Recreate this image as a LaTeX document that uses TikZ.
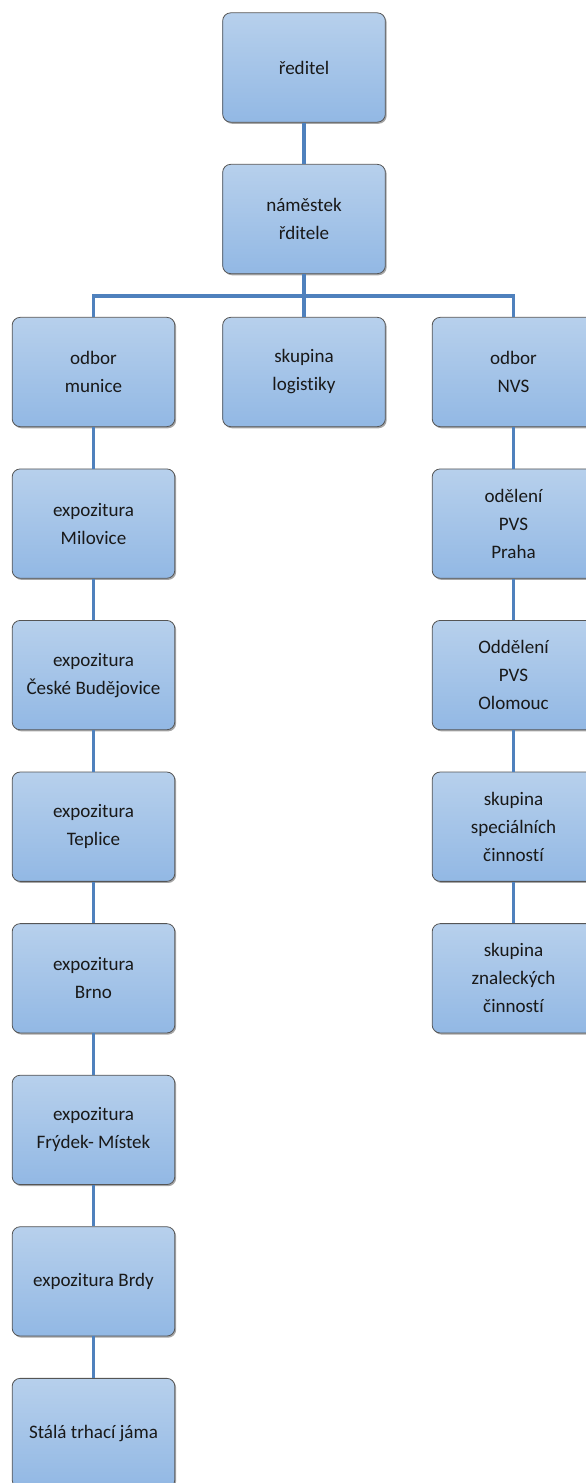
\documentclass[tikz,border=0pt]{standalone}
\usepackage{fontspec}
\setmainfont{Carlito}[RawFeature={-liga;-clig;-calt;-dlig}]
\usetikzlibrary{shadows}
\definecolor{boxtop}{RGB}{183,208,236}
\definecolor{boxbot}{RGB}{146,184,228}
\definecolor{boxline}{RGB}{85,85,85}
\definecolor{conn}{RGB}{79,129,189}
\definecolor{txt}{RGB}{25,25,25}
\tikzset{
  orgbox/.style={draw=boxline, line width=0.6pt, rounded corners=6pt,
    top color=boxtop, bottom color=boxbot,
    minimum width=122pt, minimum height=82pt, inner sep=2pt,
    align=center, text=txt,
    font=\fontsize{14.3pt}{21pt}\selectfont,
    drop shadow={shadow xshift=1pt, shadow yshift=-1.2pt, opacity=0.35, fill=black}},
  link/.style={draw=conn, line width=2.3pt}
}
\begin{document}
\begin{tikzpicture}[x=0.75pt,y=-0.75pt]
\useasboundingbox (0,0) rectangle (585,1483);
% top
\node[orgbox] (r) at (304,67.5) {ředitel};
\node[orgbox] (n) at (304,219) {náměstek\\řditele};
% row 3
\node[orgbox] (a1) at (93.5,372) {odbor\\munice};
\node[orgbox] (b1) at (304,372) {skupina\\logistiky};
\node[orgbox] (c1) at (513.5,372) {odbor\\NVS};
% left column
\node[orgbox] (a2) at (93.5,523.6) {expozitura\\Milovice};
\node[orgbox] (a3) at (93.5,675.1) {expozitura\\České Budějovice};
\node[orgbox] (a4) at (93.5,826.7) {expozitura\\Teplice};
\node[orgbox] (a5) at (93.5,978.3) {expozitura\\Brno};
\node[orgbox] (a6) at (93.5,1129.9) {expozitura\\Frýdek- Místek};
\node[orgbox] (a7) at (93.5,1281.4) {expozitura Brdy};
\node[orgbox] (a8) at (93.5,1433.0) {Stálá trhací jáma};
% right column
\node[orgbox] (c2) at (513.5,523.6) {odělení\\PVS\\Praha};
\node[orgbox] (c3) at (513.5,675.1) {Oddělení\\PVS\\Olomouc};
\node[orgbox] (c4) at (513.5,826.7) {skupina\\speciálních\\činností};
\node[orgbox] (c5) at (513.5,978.3) {skupina\\znaleckých\\činností};
\coordinate (bar) at (304,296);
% connectors
\draw[link] (r.south) -- (n.north);
\draw[link] (n.south) -- (bar);
\draw[link] (bar) -- (b1.north);
\draw[link] (a1.north) |- (bar);
\draw[link] (c1.north) |- (bar);
\draw[link] (a1.south) -- (a2.north);
\draw[link] (a2.south) -- (a3.north);
\draw[link] (a3.south) -- (a4.north);
\draw[link] (a4.south) -- (a5.north);
\draw[link] (a5.south) -- (a6.north);
\draw[link] (a6.south) -- (a7.north);
\draw[link] (a7.south) -- (a8.north);
\draw[link] (c1.south) -- (c2.north);
\draw[link] (c2.south) -- (c3.north);
\draw[link] (c3.south) -- (c4.north);
\draw[link] (c4.south) -- (c5.north);
\end{tikzpicture}
\end{document}
